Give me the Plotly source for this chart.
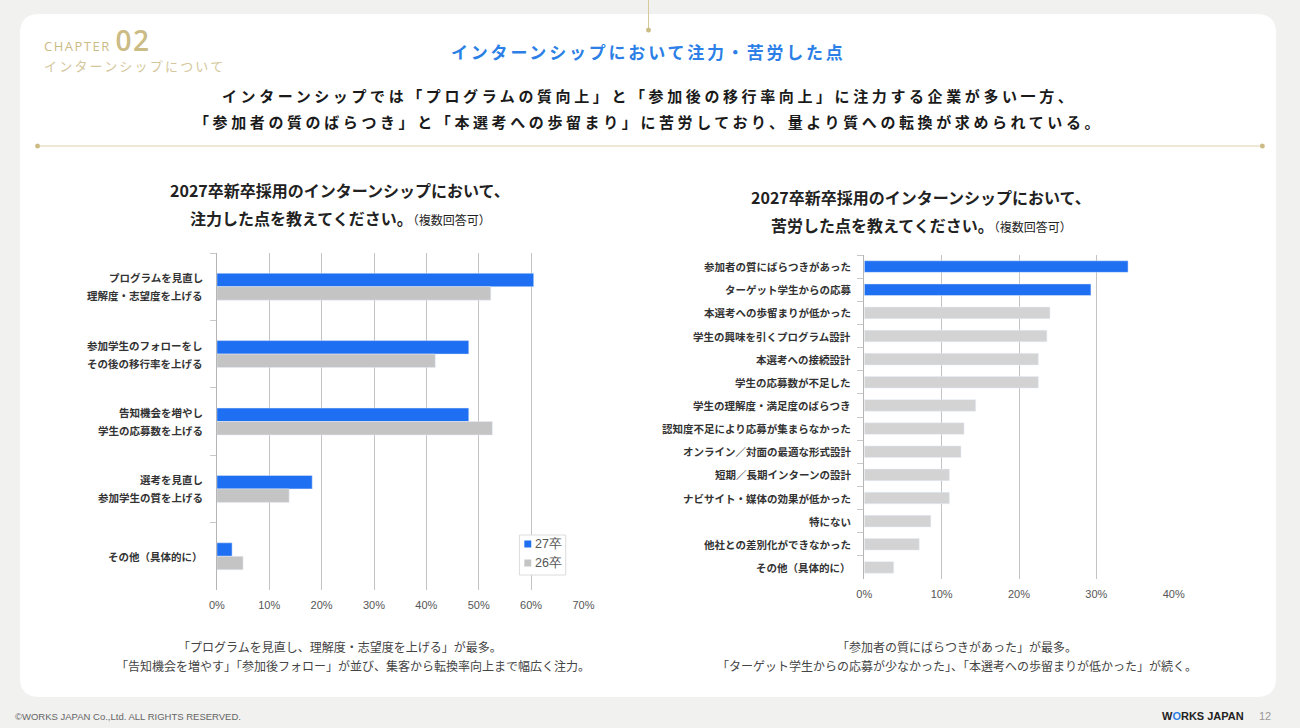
import plotly.graph_objects as go

W, H = 1300, 728
JP = "Noto Sans CJK JP"

# left chart: 注力した点 (27卒 vs 26卒)
focus_labels = [
    "プログラムを見直し\n理解度・志望度を上げる",
    "参加学生のフォローをし\nその後の移行率を上げる",
    "告知機会を増やし\n学生の応募数を上げる",
    "選考を見直し\n参加学生の質を上げる",
    "その他（具体的に）",
]
focus_27 = [60.5, 48.1, 48.1, 18.2, 2.9]
focus_26 = [52.3, 41.7, 52.6, 13.8, 5.0]
focus_ticks = [0, 10, 20, 30, 40, 50, 60, 70]
series_names = ["27卒", "26卒"]

# right chart: 苦労した点
trouble_labels = [
    "参加者の質にばらつきがあった",
    "ターゲット学生からの応募",
    "本選考への歩留まりが低かった",
    "学生の興味を引くプログラム設計",
    "本選考への接続設計",
    "学生の応募数が不足した",
    "学生の理解度・満足度のばらつき",
    "認知度不足により応募が集まらなかった",
    "オンライン／対面の最適な形式設計",
    "短期／長期インターンの設計",
    "ナビサイト・媒体の効果が低かった",
    "特にない",
    "他社との差別化ができなかった",
    "その他（具体的に）",
]
trouble_vals = [34.1, 29.3, 24.0, 23.6, 22.5, 22.5, 14.4, 12.9, 12.5, 11.0, 11.0, 8.6, 7.1, 3.8]
trouble_ticks = [0, 10, 20, 30, 40]
n_highlight = 2

BLUE = "#1f6ff2"
GRAY26 = "#c4c4c4"
GOLD = "#cbbb85"


def px(x):
    return x / W


def py(y):
    return 1 - y / H


def rounded_rect(x0, y0, x1, y1, r):
    a, b, c, d = px(x0), py(y0), px(x1), py(y1)
    rx, ry = r / W, r / H
    return (f"M{a + rx},{b} L{c - rx},{b} Q{c},{b} {c},{b - ry} "
            f"L{c},{d + ry} Q{c},{d} {c - rx},{d} L{a + rx},{d} "
            f"Q{a},{d} {a},{d + ry} L{a},{b - ry} Q{a},{b} {a + rx},{b} Z")


fig = go.Figure()

fig.add_trace(go.Bar(
    y=focus_labels, x=focus_27, orientation="h", name=series_names[0],
    marker_color=BLUE, xaxis="x", yaxis="y",
))
fig.add_trace(go.Bar(
    y=focus_labels, x=focus_26, orientation="h", name=series_names[1],
    marker_color=GRAY26, xaxis="x", yaxis="y",
))
fig.add_trace(go.Bar(
    y=trouble_labels, x=trouble_vals, orientation="h",
    marker_color=[BLUE if i < n_highlight else "#d3d3d3" for i in range(len(trouble_vals))],
    width=0.5, xaxis="x2", yaxis="y2",
))

xaxis_common = dict(
    showgrid=True, gridcolor="#c3c3c3", gridwidth=1, zeroline=False,
    ticks="", ticklabelstandoff=7,
    tickfont=dict(family="Liberation Sans", size=11, color="#555"),
)
yaxis_common = dict(
    type="category", autorange="reversed", showticklabels=False,
    ticks="outside", ticklen=6, tickcolor="#c8c8c8", tickson="boundaries",
    showgrid=False, showline=True, linecolor="#b5b5b5", linewidth=1,
)

fig.update_layout(
    autosize=True,
    margin=dict(l=0, r=0, t=0, b=0),
    paper_bgcolor="#f1f1f0",
    plot_bgcolor="rgba(0,0,0,0)",
    barmode="group", bargap=0.6, bargroupgap=0,
    showlegend=False,
    font=dict(family=JP, color="#333"),
    xaxis=dict(domain=[px(212), px(584)], range=[0, 70], tickvals=focus_ticks,
               ticktext=[f"{v}%" for v in focus_ticks], anchor="y", **xaxis_common),
    yaxis=dict(domain=[py(590), py(253)], anchor="x", **yaxis_common),
    xaxis2=dict(domain=[px(869), px(1183)], range=[0, 40], tickvals=trouble_ticks,
                ticktext=[f"{v}%" for v in trouble_ticks], anchor="y2", **xaxis_common),
    yaxis2=dict(domain=[py(579), py(255)], anchor="x2", **yaxis_common),
)

shapes = [
    # white card
    dict(type="path", xref="paper", yref="paper", path=rounded_rect(12, 14, 1287, 697, 20),
         fillcolor="white", line=dict(width=0), layer="below"),
    # gold divider
    dict(type="line", xref="paper", yref="paper", x0=px(30), x1=px(1273), y0=py(146), y1=py(146),
         line=dict(color="#ddd2a8", width=1), layer="below"),
    dict(type="line", xref="paper", yref="paper", x0=px(650), x1=px(650), y0=py(0), y1=py(30),
         line=dict(color="#d6c99a", width=1), layer="below"),
    # legend box (compact, like the original spreadsheet chart)
    dict(type="rect", xref="paper", yref="paper", x0=px(519), x1=px(566), y0=py(575), y1=py(535),
         fillcolor="white", line=dict(color="#dcdcdc", width=1)),
]
for cx, cy in [(30, 146), (1273, 146), (650, 30)]:
    shapes.append(dict(type="circle", xref="paper", yref="paper",
                       x0=px(cx - 2.5), x1=px(cx + 2.5), y0=py(cy + 2.5), y1=py(cy - 2.5),
                       fillcolor=GOLD, line=dict(width=0), layer="below"))
for (ly, col) in zip([544, 563], [BLUE, GRAY26]):
    shapes.append(dict(type="rect", xref="paper", yref="paper",
                       x0=px(524), x1=px(531), y0=py(ly + 3.5), y1=py(ly - 3.5),
                       fillcolor=col, line=dict(width=0)))
fig.update_layout(shapes=shapes)

ann = []


def text(x, y, s, size, color="#222", anchor="center", bold=False, family=JP, spacing=None):
    if spacing:
        s = f"<span style='letter-spacing:{spacing}px'>{s}</span>"
    if bold:
        s = f"<b>{s}</b>"
    ann.append(dict(x=px(x), y=py(y), xref="paper", yref="paper", text=s, showarrow=False,
                    xanchor=anchor, yanchor="middle",
                    font=dict(family=family, size=size, color=color)))


# header
text(35, 40, "CHAPTER <span style='font-size:28px;font-weight:600'>02</span>", 13, GOLD, "left",
     family="Open Sans", spacing=1.5)
text(35, 65, "インターンシップについて", 13, "#d4c79c", "left", spacing=2.2)
text(650, 52, "インターンシップにおいて注力・苦労した点", 17, "#2b7fe6", bold=True, spacing=2.8)
text(650, 96, "インターンシップでは「プログラムの質向上」と「参加後の移行率向上」に注力する企業が多い一方、",
     15, "#1a1a1a", bold=True, spacing=3.6)
text(650, 122, "「参加者の質のばらつき」と「本選考への歩留まり」に苦労しており、量より質への転換が求められている。",
     15, "#1a1a1a", bold=True, spacing=3.6)

# chart titles
small = "<span style='font-size:12px;font-weight:normal'>（複数回答可）</span>"
text(337, 190, "<b>2027卒新卒採用のインターンシップにおいて、</b>", 16, "#222")
text(337, 218, f"<b>注力した点を教えてください。</b>{small}", 16, "#222")
text(927, 197, "<b>2027卒新卒採用のインターンシップにおいて、</b>", 16, "#222")
text(927, 225, f"<b>苦労した点を教えてください。</b>{small}", 16, "#222")

# legend entries
text(533, 544, series_names[0], 12.5, "#555", "left", family="Liberation Sans")
text(533, 563, series_names[1], 12.5, "#555", "left", family="Liberation Sans")

# captions
text(337, 646, "「プログラムを見直し、理解度・志望度を上げる」が最多。", 12, "#444")
text(350, 665, "「告知機会を増やす」「参加後フォロー」が並び、集客から転換率向上まで幅広く注力。", 12, "#444")
text(963, 646, "「参加者の質にばらつきがあった」が最多。", 12, "#444")
text(963, 665, "「ターゲット学生からの応募が少なかった」、「本選考への歩留まりが低かった」が続く。", 12, "#444")

# footer
text(5, 716, "©WORKS JAPAN Co.,Ltd. ALL RIGHTS RESERVED.", 9.5, "#666", "left", family="Liberation Sans")
text(1256, 716, "<b>W<span style='color:#2b7fe6'>O</span>RKS JAPAN</b>", 11, "#222", "right",
     family="Liberation Sans")
text(1276, 716, "12", 11, "#999", family="Liberation Sans")

# category labels beside the bars
line_gap = 18
for labels, yref, right_edge in [(focus_labels, "y", 200), (trouble_labels, "y2", 858)]:
    for lab in labels:
        lines = lab.split("\n")
        for i, ln in enumerate(lines):
            ann.append(dict(
                x=px(right_edge), y=lab, xref="paper", yref=yref, text=f"<b>{ln}</b>",
                showarrow=False, xanchor="right", yanchor="middle",
                yshift=((len(lines) - 1) / 2 - i) * line_gap,
                font=dict(family=JP, size=10.5, color="#333"),
            ))

fig.update_layout(annotations=ann)

# fill the browser window exactly
fig.write_html(
    "out.html",
    default_width="100vw",
    default_height="100vh",
    config={"displayModeBar": False},
    post_script=(
        "document.body.style.margin='0';"
        "document.body.style.overflow='hidden';"
        "Plotly.Plots.resize(document.getElementById('{plot_id}'));"
    ),
)
